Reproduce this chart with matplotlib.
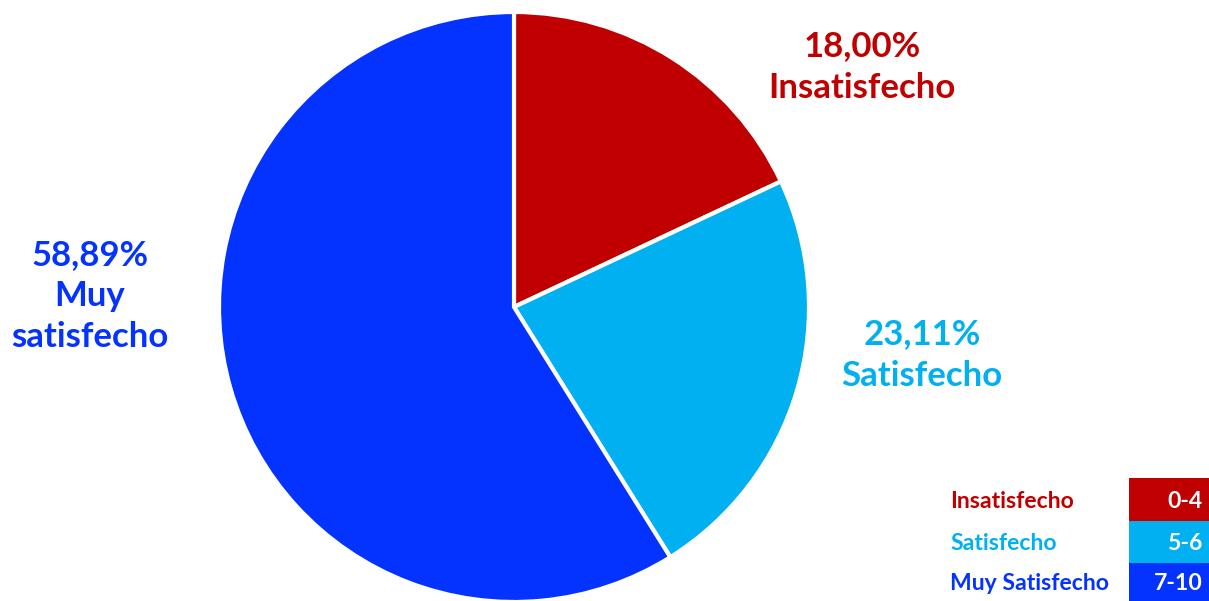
import matplotlib.pyplot as plt
from matplotlib.patches import Rectangle

# data
categories = ["Insatisfecho", "Satisfecho", "Muy satisfecho"]
values = [18.00, 23.11, 58.89]
colors = ["#C00000", "#00B0F0", "#0433FF"]
slice_labels = ["18,00%\nInsatisfecho", "23,11%\nSatisfecho", "58,89%\nMuy\nsatisfecho"]
legend_names = ["Insatisfecho", "Satisfecho", "Muy Satisfecho"]
legend_ranges = ["0-4", "5-6", "7-10"]

plt.rcParams['font.family'] = ['Lato', 'DejaVu Sans']

W, H = 1209, 601
fig = plt.figure(figsize=(W / 100, H / 100), dpi=100)
ax = fig.add_axes([0, 0, 1, 1])

# pie in pixel coordinates
cx, cy, r = 514, H - 307, 295
ax.pie(values, colors=colors, startangle=90, counterclock=False,
       center=(cx, cy), radius=r, frame=True,
       wedgeprops=dict(edgecolor="white", linewidth=3))
ax.set_xlim(0, W)
ax.set_ylim(0, H)
ax.axis("off")

# slice labels
label_pos = [(862, H - 67), (922, H - 355), (90, H - 296)]
for txt, (x, y), c in zip(slice_labels, label_pos, colors):
    ax.text(x, y, txt, color=c, fontsize=25, fontweight="bold",
            ha="center", va="center", linespacing=1.36)

# legend table
row_tops = [478, 521, 563]
row_bots = [521, 563, 601]
for name, rng, c, t, b in zip(legend_names, legend_ranges, colors, row_tops, row_bots):
    ax.add_patch(Rectangle((1129, H - b), W - 1129, b - t, facecolor=c,
                           edgecolor="none", clip_on=False))
    ym = H - (t + b) / 2 - 2
    ax.text(950, ym, name, color=c, fontsize=16.6, fontweight="bold",
            ha="left", va="center")
    ax.text(1203, ym, rng, color="white", fontsize=16.6, fontweight="bold",
            ha="right", va="center")

fig.savefig("out.png", dpi=100)
